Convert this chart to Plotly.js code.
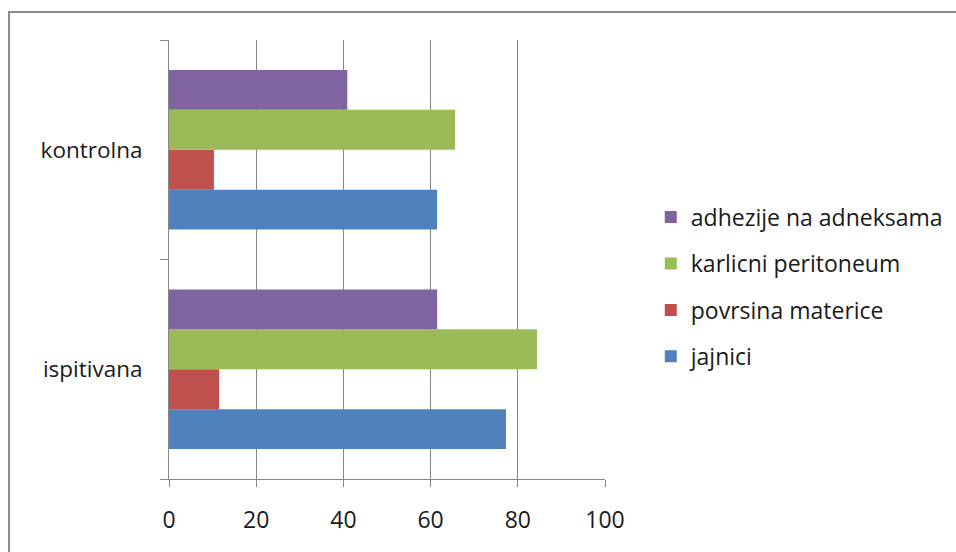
<!DOCTYPE html>
<html>
<head>
<meta charset="utf-8">
<script src="https://cdn.plot.ly/plotly-3.0.1.min.js"></script>
<style>
  html, body { margin: 0; padding: 0; background: #ffffff; overflow: hidden; }
  #frame { position: absolute; left: 8px; top: 11px; width: 1000px; height: 600px;
           border-top: 2px solid #8c8c8c; border-left: 2px solid #8c8c8c; box-sizing: border-box; }
  #chart { position: absolute; left: 0; top: 0; width: 956px; height: 552px; }
</style>
</head>
<body>
<div id="frame"></div>
<div id="chart"></div>
<script>
const categories = ['ispitivana', 'kontrolna'];
const seriesNames = ['jajnici', 'povrsina materice', 'karlicni peritoneum', 'adhezije na adneksama'];
const jajnici = [77.3, 61.5];
const povrsinaMaterice = [11.5, 10.3];
const karlicniPeritoneum = [84.4, 65.6];
const adhezijeNaAdneksama = [61.5, 40.9];
const xTickVals = [0, 20, 40, 60, 80, 100];
const colors = ['#4F81BD', '#C0504D', '#9BBB59', '#8064A2'];

const seriesValues = [jajnici, povrsinaMaterice, karlicniPeritoneum, adhezijeNaAdneksama];
const traces = seriesValues.map((vals, i) => ({
  type: 'bar',
  orientation: 'h',
  name: seriesNames[i],
  legendgroup: 'g' + i,
  legendrank: 1000 - i,
  y: categories,
  x: vals,
  marker: { color: colors[i], line: { width: 0 } },
  hoverinfo: 'x+name'
}));

const gridColor = '#868686';
const layout = {
  width: 956,
  height: 552,
  paper_bgcolor: 'rgba(0,0,0,0)',
  plot_bgcolor: 'rgba(0,0,0,0)',
  margin: { l: 169, r: 351, t: 40, b: 73, autoexpand: false },
  font: { family: 'Open Sans, sans-serif', size: 22, color: '#1a1a1a' },
  barmode: 'group',
  bargap: 0.2727,
  bargroupgap: 0,
  showlegend: true,
  legend: {
    x: 1.105, xanchor: 'left',
    y: 0.437, yanchor: 'middle',
    traceorder: 'grouped',
    tracegroupgap: 13.5,
    font: { family: 'Open Sans, sans-serif', size: 23, color: '#1a1a1a' },
    bgcolor: 'rgba(0,0,0,0)'
  },
  xaxis: {
    range: [0, 100],
    tickvals: xTickVals,
    ticktext: xTickVals.map(String),
    showgrid: true,
    gridcolor: gridColor,
    gridwidth: 1,
    zeroline: false,
    showline: true,
    linecolor: gridColor,
    linewidth: 1,
    ticks: 'outside',
    ticklen: 7,
    tickcolor: gridColor,
    ticklabelstandoff: 13,
    tickfont: { size: 23 },
    fixedrange: true
  },
  yaxis: {
    type: 'category',
    categoryorder: 'array',
    categoryarray: categories,
    range: [-0.5, 1.5],
    showgrid: false,
    zeroline: false,
    showline: true,
    linecolor: gridColor,
    linewidth: 1,
    ticks: 'outside',
    tickson: 'boundaries',
    ticklen: 8,
    tickcolor: gridColor,
    ticklabelstandoff: 21,
    tickfont: { size: 22.5 },
    fixedrange: true
  }
};

Plotly.newPlot('chart', traces, layout, { displayModeBar: false, staticPlot: true });
</script>
</body>
</html>
